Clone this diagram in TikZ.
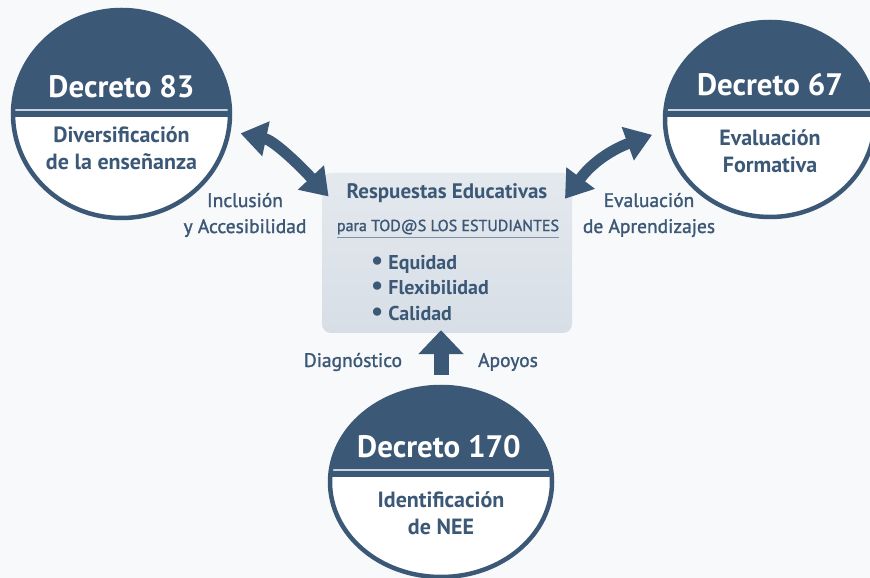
\documentclass[tikz,border=0pt]{standalone}
\usepackage{fontspec}
\setmainfont{PT Sans}
\newfontfamily\medfont[FakeBold=1.4]{PT Sans}
\usetikzlibrary{positioning,shapes.geometric,arrows.meta}

\definecolor{decblue}{HTML}{3C5877}
\definecolor{boxtop}{HTML}{E4E9EE}
\definecolor{boxbot}{HTML}{D7DEE6}
\definecolor{rulecol}{HTML}{7D90A5}
\definecolor{divcol}{HTML}{C9D3DD}
\definecolor{bgcol}{HTML}{F8F9FA}

\newcommand{\bigdot}{{\fontsize{27}{25.5}\selectfont\textbullet}\hspace{5pt}}

\tikzset{
  decreto/.style 2 args={ellipse, draw=decblue, line width=4.5pt, fill=white, inner sep=0pt,
    path picture={
      \fill[decblue] ([yshift=5pt]path picture bounding box.north west) rectangle ([yshift=#1]path picture bounding box.east);
      \draw[divcol, line width=1.6pt] ([yshift=#2]path picture bounding box.west) -- ([yshift=#2]path picture bounding box.east);
    }},
  title/.style={text=white, inner sep=0pt, font=\bfseries\fontsize{31}{31}\selectfont},
  subtitle/.style={text=decblue, inner sep=0pt, align=center, font=\bfseries\fontsize{22}{27}\selectfont},
  lbl/.style={text=decblue, inner sep=0pt, align=center, font=\medfont\fontsize{19.5}{26}\selectfont},
  dbl/.style={draw=decblue, line width=11pt, {Triangle[width=34pt,length=26pt]}-{Triangle[width=34pt,length=26pt]}},
  uparrow/.style={draw=decblue, line width=15pt, -{Triangle[width=44pt,length=24pt]}}
}

\begin{document}
\begin{tikzpicture}[x=1pt,y=1pt]

\useasboundingbox (0,0) rectangle (870,578);
\fill[bgcol] (0,0) rectangle (870,578);

% the three decrees
\node (d83) [decreto={-3pt}{4pt}, minimum width=217pt, minimum height=208pt] at (121.5,464) {};
\node (d67) [decreto={2.5pt}{9.5pt}, minimum width=210pt, minimum height=195pt] at (770,458.5) {};
\node (d170) [decreto={5pt}{12pt}, minimum width=222pt, minimum height=190pt] at (441,96) {};

\node (t83) [title] at ([yshift=27pt]d83.center) {Decreto 83};
\node (s83) [subtitle] at ([yshift=-34.5pt]d83.center) {Diversificación\\de la enseñanza};
\node (t67) [title] at ([yshift=34.5pt]d67.center) {Decreto 67};
\node (s67) [subtitle] at ([yshift=-32pt]d67.center) {Evaluación\\Formativa};
\node (t170) [title] at ([xshift=-2pt,yshift=35pt]d170.center) {Decreto 170};
\node (s170) [subtitle] at ([yshift=-31.5pt]d170.center) {Identificación\\de NEE};

% central box
\node (box) [rectangle, rounded corners=9pt, top color=boxtop, bottom color=boxbot, minimum width=250pt, minimum height=160pt] at (447,325) {};
\node (resp) [text=decblue, inner sep=0pt, font=\bfseries\fontsize{21}{21}\selectfont] at (447,385) {Respuestas Educativas};
\node (para) [text=decblue, inner sep=0pt, font=\medfont\fontsize{16}{16}\selectfont] at (448,351) {para TOD@S LOS ESTUDIANTES};
\draw[rulecol, line width=1.8pt] ([yshift=-3pt]para.south west) -- ([yshift=-3pt]para.south east);
\node (items) [text=decblue, inner sep=0pt, anchor=west, align=left, font=\bfseries\fontsize{20}{25.5}\selectfont] at (371,290) {\bigdot Equidad\\\bigdot Flexibilidad\\\bigdot Calidad};

% labels
\node (inc) [lbl] at (245,363) {Inclusión\\y Accesibilidad};
\node (eva) [lbl] at (649,363) {Evaluación\\de Aprendizajes};
\node (diag) [lbl] at (353,216) {Diagnóstico};
\node (apo) [lbl] at (508,216) {Apoyos};

% arrows
\draw[dbl, shorten <=10pt, shorten >=-10pt] (d83.-9) to[out=-12, in=133] (box.153);
\draw[dbl, shorten <=-12pt, shorten >=12pt] (box.27) to[out=53, in=200] (d67.186);
\draw[uparrow, shorten <=10pt, shorten >=-3pt] (d170.north) -- (d170.north |- box.south);

\end{tikzpicture}
\end{document}
